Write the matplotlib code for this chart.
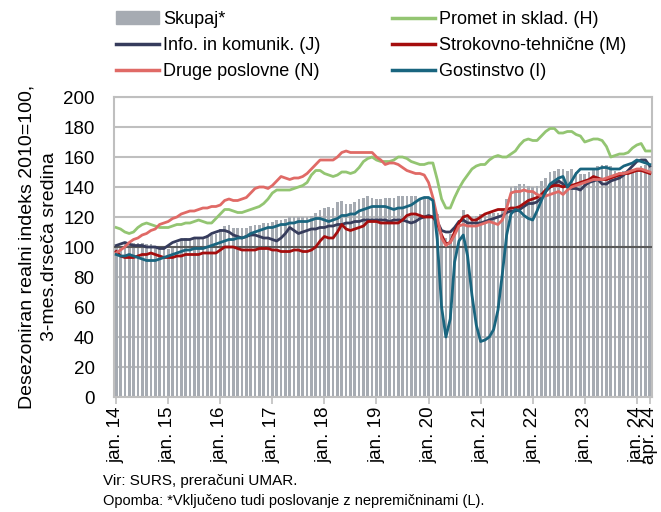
import matplotlib
matplotlib.use("Agg")
import matplotlib.pyplot as plt
import numpy as np
from matplotlib.patches import Patch
from matplotlib.lines import Line2D

plt.rcParams['font.family'] = ['Liberation Sans', 'DejaVu Sans']

# Monthly data, jan 2014 - apr 2024
skupaj = [100, 101, 102, 102, 103, 103, 103, 102, 102, 101, 101, 100,
          99, 100, 103, 105, 106, 106, 107, 107, 107, 108, 108, 109,
          112, 114, 115, 113, 113, 113, 113, 114, 115, 115, 116, 116,
          117, 118, 118, 119, 120, 120, 120, 120, 120, 121, 123, 125,
          126, 127, 126, 130, 131, 129, 129, 130, 132, 133, 134, 133,
          132, 132, 133, 133, 133, 134, 134, 134, 134, 134, 133, 133,
          133, 131, 122, 108, 106, 109, 113, 118, 125, 121, 120, 121,
          122, 122, 123, 123, 123, 125, 132, 140, 141, 142, 142, 141,
          140, 141, 144, 146, 150, 151, 152, 152, 151, 152, 150, 149,
          149, 150, 153, 154, 155, 155, 154, 151, 150, 151, 151, 152,
          153, 154, 155, 154]
promet = [113, 112, 110, 109, 110, 113, 115, 116, 115, 114, 113, 113,
          113, 114, 115, 115, 116, 116, 117, 118, 117, 116, 116, 119,
          122, 125, 125, 124, 123, 123, 124, 125, 126, 127, 129, 132,
          136, 138, 138, 138, 138, 139, 140, 141, 143, 148, 151, 151,
          149, 148, 147, 148, 150, 150, 149, 150, 153, 157, 159, 160,
          158, 157, 157, 157, 158, 160, 160, 159, 157, 156, 155, 155,
          156, 156, 145, 132, 126, 126, 133, 139, 144, 148, 152, 154,
          155, 155, 158, 160, 161, 160, 160, 162, 164, 168, 171, 172,
          171, 171, 174, 177, 179, 179, 176, 176, 177, 177, 175, 174,
          170, 171, 172, 172, 171, 167, 160, 161, 162, 162, 163, 166,
          168, 169, 164, 164]
info = [101, 102, 103, 102, 101, 101, 101, 100, 100, 100, 99, 99,
        101, 103, 104, 105, 105, 105, 106, 106, 106, 107, 109, 110,
        111, 111, 110, 108, 107, 106, 107, 108, 108, 107, 106, 106,
        105, 104, 106, 109, 113, 111, 109, 110, 111, 112, 112, 113,
        113, 114, 114, 115, 115, 116, 116, 117, 117, 118, 118, 118,
        118, 118, 118, 117, 118, 118, 118, 117, 116, 117, 119, 120,
        121, 120, 117, 111, 110, 110, 113, 117, 118, 116, 116, 116,
        116, 117, 118, 119, 120, 121, 123, 124, 124, 125, 127, 129,
        129, 130, 133, 137, 140, 142, 144, 142, 140, 139, 139, 138,
        141, 143, 144, 145, 142, 142, 144, 145, 146, 148, 151, 154,
        157, 158, 158, 154]
strokovno = [97, 94, 93, 93, 93, 94, 95, 95, 96, 95, 94, 93,
             93, 93, 94, 94, 95, 95, 95, 95, 96, 96, 96, 96,
             98, 100, 100, 100, 99, 98, 98, 98, 98, 99, 99, 99,
             98, 98, 97, 97, 97, 98, 98, 97, 97, 98, 100, 104,
             107, 106, 106, 110, 115, 112, 111, 112, 113, 114, 117, 117,
             117, 116, 116, 116, 116, 116, 118, 121, 122, 122, 121, 120,
             120, 120, 116, 108, 102, 103, 110, 116, 120, 121, 118, 118,
             120, 122, 123, 124, 125, 125, 125, 126, 126, 127, 129, 131,
             132, 133, 135, 138, 140, 141, 141, 140, 141, 141, 142, 143,
             144, 145, 147, 146, 145, 145, 146, 147, 148, 149, 149, 150,
             151, 151, 150, 149]
druge = [96, 98, 100, 103, 105, 106, 108, 109, 111, 112, 115, 116,
         117, 119, 120, 122, 123, 124, 124, 125, 126, 126, 127, 127,
         128, 131, 132, 131, 131, 132, 133, 136, 139, 140, 140, 139,
         141, 144, 147, 146, 145, 146, 146, 147, 149, 152, 155, 158,
         158, 158, 158, 160, 163, 164, 163, 163, 163, 163, 163, 163,
         160, 158, 155, 156, 156, 155, 153, 151, 150, 149, 149, 148,
         143, 133, 120, 106, 101, 103, 108, 114, 115, 114, 114, 114,
         115, 116, 117, 116, 115, 118, 126, 136, 137, 137, 138, 137,
         137, 135, 134, 134, 135, 136, 137, 135, 138, 140, 141, 142,
         143, 144, 145, 145, 145, 146, 147, 148, 149, 149, 150, 151,
         152, 152, 151, 150]
gostinstvo = [95, 94, 94, 95, 94, 93, 92, 91, 91, 91, 92, 93,
              94, 95, 96, 97, 98, 98, 99, 99, 99, 100, 101, 102,
              103, 104, 105, 105, 106, 106, 107, 109, 110, 111, 112, 113,
              113, 114, 115, 115, 116, 116, 117, 117, 117, 118, 119, 119,
              118, 117, 118, 119, 121, 121, 122, 122, 124, 125, 126, 127,
              127, 127, 127, 126, 125, 126, 126, 127, 128, 130, 132, 133,
              133, 131, 105, 60, 40, 52, 90, 104, 108, 94, 68, 48,
              37, 38, 40, 45, 58, 82, 108, 122, 125, 124, 121, 119,
              118, 124, 131, 137, 142, 144, 146, 147, 140, 144, 149, 152,
              152, 152, 152, 152, 153, 153, 152, 152, 152, 154, 155, 156,
              158, 157, 156, 155]

tick_pos = [0, 12, 24, 36, 48, 60, 72, 84, 96, 108, 120, 123]
tick_labels = ['jan. 14', 'jan. 15', 'jan. 16', 'jan. 17', 'jan. 18', 'jan. 19',
               'jan. 20', 'jan. 21', 'jan. 22', 'jan. 23', 'jan. 24', 'apr. 24']

series = [
    ('Promet in sklad. (H)', promet, '#93c572'),
    ('Info. in komunik. (J)', info, '#363c5c'),
    ('Strokovno-tehnične (M)', strokovno, '#a50d0d'),
    ('Druge poslovne (N)', druge, '#e06a66'),
    ('Gostinstvo (I)', gostinstvo, '#19657f'),
]

fig = plt.figure(figsize=(6.61, 5.12), dpi=100)
ax = fig.add_axes([114/661, 1 - 397/512, 538/661, 300/512])

x = np.arange(len(skupaj))
ax.bar(x, skupaj, width=0.62, color='#a6abb2', zorder=2)
ax.axhline(100, color='#595959', lw=1.5, zorder=3)
for name, vals, col in series:
    ax.plot(x, vals, color=col, lw=2.0, zorder=4, solid_joinstyle='round')

ax.set_xlim(-0.5, len(skupaj) - 0.5)
ax.set_ylim(0, 200)
ax.set_yticks(range(0, 201, 20))
ax.yaxis.grid(True, color='#bfbfbf', lw=1.5, zorder=0)
ax.set_axisbelow(True)
ax.tick_params(axis='y', length=0, labelsize=13.5, pad=14, colors='black')
ax.set_xticks(tick_pos)
ax.set_xticklabels(tick_labels, rotation=90, fontsize=13.5)
ax.tick_params(axis='x', length=5, width=1.2, color='#bfbfbf', pad=2)
for s in ax.spines.values():
    s.set_color('#bfbfbf')
    s.set_linewidth(1.5)

ax.set_ylabel('Desezoniran realni indeks 2010=100,\n3-mes.drseča sredina', fontsize=14,
              labelpad=4, linespacing=1.4)

handles = [Patch(color='#a6abb2', label='Skupaj*'),
           Line2D([], [], color='#93c572', lw=2.5, label='Promet in sklad. (H)'),
           Line2D([], [], color='#363c5c', lw=2.5, label='Info. in komunik. (J)'),
           Line2D([], [], color='#a50d0d', lw=2.5, label='Strokovno-tehnične (M)'),
           Line2D([], [], color='#e06a66', lw=2.5, label='Druge poslovne (N)'),
           Line2D([], [], color='#19657f', lw=2.5, label='Gostinstvo (I)')]
order = [0, 2, 4, 1, 3, 5]
fig.legend([handles[i] for i in order], [handles[i].get_label() for i in order],
           ncol=2, loc='upper left', bbox_to_anchor=(116/661, 1 - 11/512),
           frameon=False, fontsize=13, handlelength=2.4, handleheight=0.75,
           handletextpad=0.2, columnspacing=3.95, labelspacing=0.5, borderaxespad=0,
           borderpad=0)

fig.text(103/661, 1 - 481/512, 'Vir: SURS, preračuni UMAR.', fontsize=11, va='center')
fig.text(103/661, 1 - 501/512, 'Opomba: *Vključeno tudi poslovanje z nepremičninami (L).',
         fontsize=10.5, va='center')

fig.savefig('out.png', dpi=100)
